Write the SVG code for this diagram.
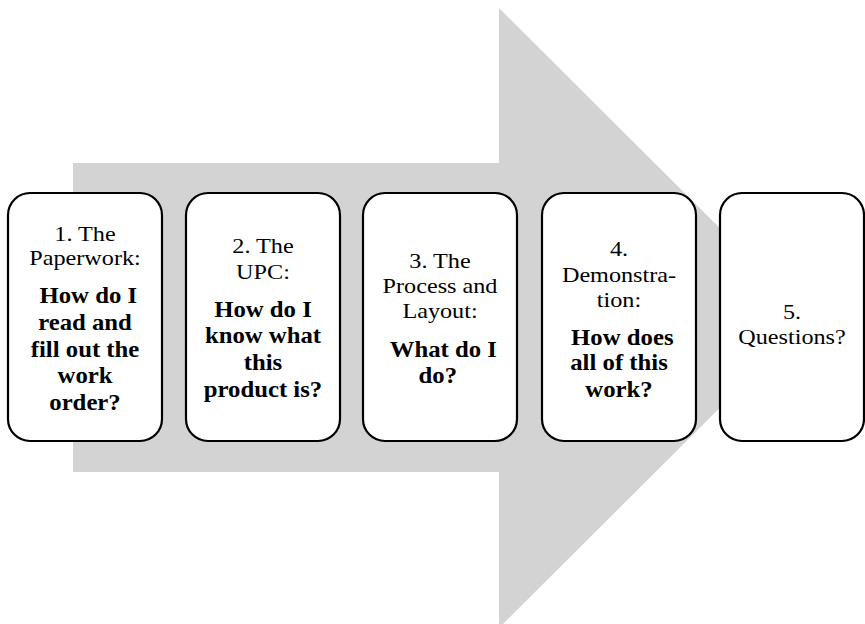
<svg xmlns="http://www.w3.org/2000/svg" width="865" height="624" viewBox="0 0 865 624">
<style>
.box{fill:#ffffff;stroke:#000000;stroke-width:2.2}
text{font-family:"Liberation Serif","Times New Roman",Times,serif;fill:#000;text-anchor:middle}
.r{font-size:22px}
.b{font-size:22.5px;font-weight:bold}
</style>
<rect width="865" height="624" fill="#ffffff"/>
<g id="arrow">
<polygon points="73,163 499,163 499,8 810,318 499,628 499,472 73,472" fill="#d3d3d3"/>
</g>
<g id="node1">
<rect class="box" x="8" y="193" width="154" height="248" rx="22"/>
<g transform="translate(85 0) scale(1.1 1)">
<text class="r" x="0" y="241">1. The</text>
<text class="r" x="0" y="265">Paperwork:</text>
<text class="b" x="3" y="303">How do I</text>
<text class="b" x="0" y="330">read and</text>
<text class="b" x="0" y="357">fill out the</text>
<text class="b" x="0" y="383">work</text>
<text class="b" x="0" y="410">order?</text>
</g>
</g>
<g id="node2">
<rect class="box" x="186" y="193" width="154" height="248" rx="22"/>
<g transform="translate(263 0) scale(1.1 1)">
<text class="r" x="0" y="253">2. The</text>
<text class="r" x="0" y="279">UPC:</text>
<text class="b" x="0" y="317">How do I</text>
<text class="b" x="0" y="343">know what</text>
<text class="b" x="0" y="370">this</text>
<text class="b" x="0" y="397">product is?</text>
</g>
</g>
<g id="node3">
<rect class="box" x="363" y="193" width="154" height="248" rx="22"/>
<g transform="translate(440 0) scale(1.1 1)">
<text class="r" x="0" y="268">3. The</text>
<text class="r" x="0" y="293">Process and</text>
<text class="r" x="0" y="318">Layout:</text>
<text class="b" x="3" y="357">What do I</text>
<text class="b" x="-2" y="383">do?</text>
</g>
</g>
<g id="node4">
<rect class="box" x="542" y="193" width="154" height="248" rx="22"/>
<g transform="translate(619 0) scale(1.1 1)">
<text class="r" x="0" y="256">4.</text>
<text class="r" x="0" y="282">Demonstra-</text>
<text class="r" x="0" y="307">tion:</text>
<text class="b" x="3" y="345">How does</text>
<text class="b" x="0" y="370">all of this</text>
<text class="b" x="0" y="397">work?</text>
</g>
</g>
<g id="node5">
<rect class="box" x="720" y="193" width="144" height="248" rx="22"/>
<g transform="translate(792 0) scale(1.1 1)">
<text class="r" x="0" y="319">5.</text>
<text class="r" x="0" y="344">Questions?</text>
</g>
</g>
<g id="connectors"></g>
</svg>
